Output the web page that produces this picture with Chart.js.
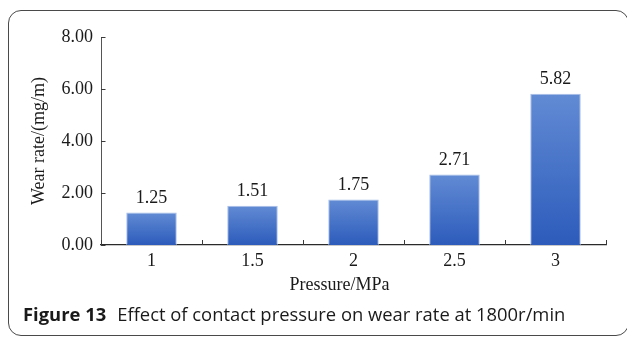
<!DOCTYPE html>
<html>
<head>
<meta charset="utf-8">
<script src="https://cdn.jsdelivr.net/npm/chart.js@4"></script>
<style>
  html, body { margin: 0; padding: 0; background: #fff; }
  #wrap { position: relative; width: 627px; height: 339px; overflow: hidden; background: #fff; }
  #frame { position: absolute; left: 8px; top: 10px; width: 621px; height: 326px;
           border: 1.3px solid #4a4a4a; border-radius: 13px; box-sizing: border-box; }
  #c { position: absolute; left: 0; top: 0; }
  #caption { position: absolute; left: 23px; top: 305px; font-family: "Open Sans", sans-serif;
             font-size: 18.4px; line-height: 18px; color: #1a1a1a; white-space: nowrap; }
  #caption b { font-weight: 700; margin-right: 11px; }
</style>
</head>
<body>
<div id="wrap">
  <div id="frame"></div>
  <canvas id="c" width="627" height="339"></canvas>
  <div id="caption"><b>Figure 13</b>Effect of contact pressure on wear rate at 1800r/min</div>
</div>
<script>
const categories = ['1', '1.5', '2', '2.5', '3'];
const wearRate = [1.25, 1.51, 1.75, 2.71, 5.82];
const yTicks = [0, 2, 4, 6, 8];
const xTitle = 'Pressure/MPa';
const yTitle = 'Wear rate/(mg/m)';

const serif = '"Liberation Serif", "Times New Roman", serif';

function barGradient(ctx) {
  const chart = ctx.chart;
  if (!chart.chartArea || ctx.parsed === undefined) return '#3f6cc6';
  const ys = chart.scales.y;
  const top = ys.getPixelForValue(ctx.parsed.y);
  const bottom = ys.getPixelForValue(0);
  const g = chart.ctx.createLinearGradient(0, top, 0, bottom);
  g.addColorStop(0, '#628bd4');
  g.addColorStop(1, '#2c5bbb');
  return g;
}

const decor = {
  id: 'decor',
  afterDatasetsDraw(chart) {
    const c = chart.ctx;
    const xs = chart.scales.x, ys = chart.scales.y;
    const area = chart.chartArea;
    c.save();
    // inward tick marks
    c.strokeStyle = '#3a3a3a';
    c.lineWidth = 1;
    c.beginPath();
    yTicks.forEach(v => {
      const y = Math.round(ys.getPixelForValue(v)) + 0.5;
      c.moveTo(area.left, y); c.lineTo(area.left + 4.5, y);
    });
    for (let i = 0; i <= categories.length; i++) {
      const x = Math.round(xs.getPixelForValue(i - 0.5)) + 0.5;
      c.moveTo(x, area.bottom); c.lineTo(x, area.bottom - 5);
    }
    c.stroke();
    // value labels
    c.fillStyle = '#1a1a1a';
    c.font = '18px ' + serif;
    c.textAlign = 'center';
    c.textBaseline = 'alphabetic';
    chart.getDatasetMeta(0).data.forEach((bar, i) => {
      c.fillText(wearRate[i].toFixed(2), bar.x, bar.y - 10);
    });
    // x axis title (slightly left of centre in reference)
    c.fillText(xTitle, (area.left + area.right) / 2 - 14, 290);
    c.restore();
  }
};

new Chart(document.getElementById('c'), {
  type: 'bar',
  data: {
    labels: categories,
    datasets: [{
      data: wearRate,
      backgroundColor: barGradient,
      borderColor: '#a9bfe8',
      borderWidth: 1,
      categoryPercentage: 1.0,
      barPercentage: 0.5
    }]
  },
  options: {
    responsive: false,
    animation: false,
    events: [],
    layout: { padding: { left: 0, top: 37, right: 21, bottom: 0 } },
    plugins: { legend: { display: false }, tooltip: { enabled: false } },
    scales: {
      x: {
        afterFit(s) { s.height = 94; },
        grid: { display: false, offset: true },
        border: { display: true, color: '#2a2a2a', width: 1.2 },
        ticks: { color: '#1a1a1a', font: { family: serif, size: 18 }, padding: -3 }
      },
      y: {
        min: 0, max: 8,
        afterFit(s) { s.width = 101; },
        afterBuildTicks(s) { s.ticks = yTicks.map(v => ({ value: v })); },
        grid: { display: false, drawTicks: false },
        border: { display: true, color: '#555', width: 1 },
        ticks: { color: '#1a1a1a', font: { family: serif, size: 18 }, padding: 8,
                 callback: v => Number(v).toFixed(2) },
        title: { display: true, text: yTitle, color: '#1a1a1a',
                 font: { family: serif, size: 18 }, padding: { top: 28, bottom: 0 } }
      }
    }
  },
  plugins: [decor]
});
</script>
</body>
</html>
